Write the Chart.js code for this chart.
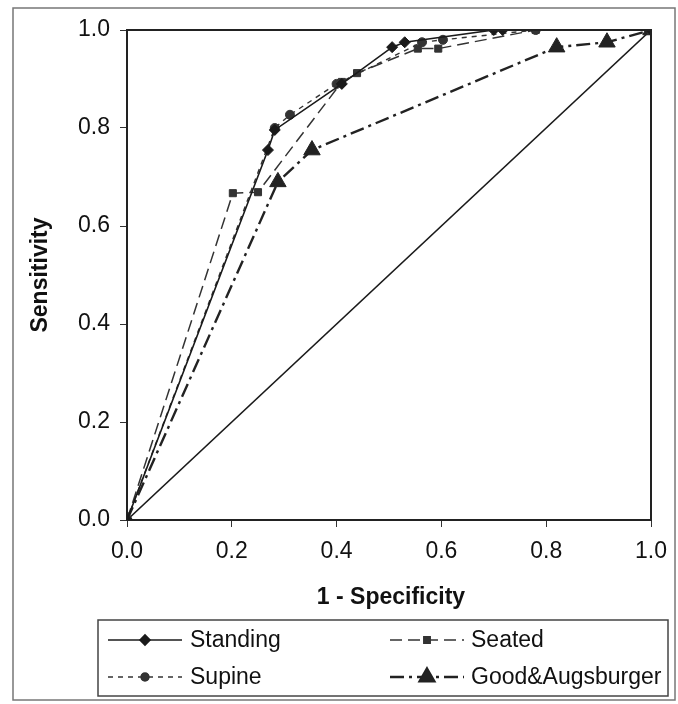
<!DOCTYPE html>
<html>
<head>
<meta charset="utf-8">
<script src="https://cdn.jsdelivr.net/npm/chart.js@4"></script>
<style>
  html, body { margin: 0; padding: 0; background: #fff; }
  #wrap { width: 678px; height: 704px; position: relative; }
</style>
</head>
<body>
<div id="wrap"><canvas id="roc" width="678" height="704"></canvas></div>
<script>
// values (1 - specificity, sensitivity)
const standingX = [0, 0.269, 0.282, 0.41, 0.506, 0.53, 0.70, 0.717, 1];
const standingY = [0, 0.755, 0.796, 0.89, 0.965, 0.975, 1.0, 1.0, 1];

const seatedX = [0, 0.202, 0.25, 0.41, 0.439, 0.555, 0.594, 0.78, 1];
const seatedY = [0, 0.667, 0.669, 0.894, 0.912, 0.962, 0.962, 1.0, 1];

const supineX = [0, 0.282, 0.311, 0.40, 0.563, 0.603, 0.78, 1];
const supineY = [0, 0.80, 0.827, 0.89, 0.975, 0.98, 1.0, 1];

const goodX = [0, 0.288, 0.353, 0.82, 0.916, 1];
const goodY = [0, 0.69, 0.755, 0.965, 0.975, 1];

const diagX = [0, 1];
const diagY = [0, 1];

const axisTicks = [0, 0.2, 0.4, 0.6, 0.8, 1.0];

const FONT = '"Liberation Sans", Arial, sans-serif';

function pts(xs, ys) {
    return xs.map((x, i) => ({ x: x, y: ys[i] }));
}

const series = [
    { label: 'Standing', xs: standingX, ys: standingY, style: 'rectRot', radius: 5.5, dash: [], width: 1.6, color: '#1a1a1a' },
    { label: 'Seated', xs: seatedX, ys: seatedY, style: 'rect', radius: 5, dash: [12, 6], width: 1.5, color: '#333' },
    { label: 'Supine', xs: supineX, ys: supineY, style: 'circle', radius: 4.5, dash: [5, 5], width: 1.4, color: '#333' },
    { label: 'Good&Augsburger', xs: goodX, ys: goodY, style: 'triangle', radius: 9.5, dash: [14, 5, 3, 5], width: 2.4, color: '#222' },
];

const datasets = series.map(s => ({
    label: s.label,
    data: pts(s.xs, s.ys),
    showLine: true,
    borderColor: s.color,
    backgroundColor: s.color,
    borderWidth: s.width,
    borderDash: s.dash,
    pointStyle: s.style,
    pointRadius: s.radius,
    pointBorderWidth: 1,
    pointBorderColor: s.color,
    pointBackgroundColor: s.color,
}));

datasets.push({
    label: 'diagonal',
    data: pts(diagX, diagY),
    showLine: true,
    borderColor: '#1a1a1a',
    borderWidth: 1.6,
    pointRadius: 0,
});

// frame, plot box, axis titles and the boxed legend
const decorations = {
    id: 'decorations',
    afterDraw(chart) {
        const ctx = chart.ctx;
        const a = chart.chartArea;
        ctx.save();

        ctx.strokeStyle = '#777';
        ctx.lineWidth = 1.5;
        ctx.strokeRect(13, 8, 662, 692);

        ctx.strokeStyle = '#222';
        ctx.lineWidth = 2;
        ctx.beginPath();
        ctx.moveTo(a.left, a.top);
        ctx.lineTo(a.right, a.top);
        ctx.lineTo(a.right, a.bottom);
        ctx.stroke();

        ctx.fillStyle = '#111';
        ctx.font = 'bold 23px ' + FONT;
        ctx.textAlign = 'center';
        ctx.textBaseline = 'middle';
        ctx.fillText('1 - Specificity', (a.left + a.right) / 2 + 2, 598);
        ctx.save();
        ctx.translate(41, (a.top + a.bottom) / 2);
        ctx.rotate(-Math.PI / 2);
        ctx.fillText('Sensitivity', 0, 0);
        ctx.restore();

        ctx.strokeStyle = '#444';
        ctx.lineWidth = 1.5;
        ctx.strokeRect(98, 620, 570, 76);

        const slots = [
            { x0: 108, x1: 182, tx: 190, y: 640 },
            { x0: 390, x1: 464, tx: 471, y: 640 },
            { x0: 108, x1: 182, tx: 190, y: 677 },
            { x0: 390, x1: 464, tx: 471, y: 677 },
        ];
        ctx.font = '23px ' + FONT;
        ctx.textAlign = 'left';
        series.forEach((s, i) => {
            const sl = slots[i];
            ctx.strokeStyle = s.color;
            ctx.lineWidth = s.width;
            ctx.setLineDash(s.dash);
            ctx.beginPath();
            ctx.moveTo(sl.x0, sl.y);
            ctx.lineTo(sl.x1, sl.y);
            ctx.stroke();
            ctx.setLineDash([]);
            Chart.helpers.drawPoint(ctx, {
                pointStyle: s.style,
                radius: s.style === 'triangle' ? 8.5 : s.radius - 0.5,
                borderWidth: 1,
                rotation: 0,
            }, (sl.x0 + sl.x1) / 2, sl.y);
            ctx.fillStyle = s.color;
            ctx.fill();
            ctx.fillStyle = '#111';
            ctx.fillText(s.label, sl.tx, sl.y + 1);
        });
        ctx.restore();
    }
};

new Chart(document.getElementById('roc'), {
    type: 'scatter',
    data: { datasets: datasets },
    options: {
        responsive: false,
        animation: false,
        layout: { padding: { left: 0, top: 30, right: 27, bottom: 0 } },
        plugins: {
            legend: { display: false },
            tooltip: { enabled: false },
        },
        scales: {
            x: {
                type: 'linear',
                min: 0,
                max: 1,
                afterFit: s => { s.height = 184; },
                afterBuildTicks: s => { s.ticks = axisTicks.map(v => ({ value: v })); },
                ticks: {
                    color: '#111',
                    padding: 11,
                    font: { family: FONT, size: 23 },
                    callback: v => v.toFixed(1),
                },
                grid: { drawOnChartArea: false, drawTicks: true, tickLength: 7, color: '#333' },
                border: { display: true, color: '#222', width: 2 },
            },
            y: {
                type: 'linear',
                min: 0,
                max: 1,
                afterFit: s => { s.width = 127; },
                afterBuildTicks: s => { s.ticks = axisTicks.map(v => ({ value: v })); },
                ticks: {
                    color: '#111',
                    padding: 10,
                    font: { family: FONT, size: 23 },
                    callback: v => v.toFixed(1),
                },
                grid: { drawOnChartArea: false, drawTicks: true, tickLength: 7, color: '#333' },
                border: { display: true, color: '#222', width: 2 },
            },
        },
    },
    plugins: [decorations],
});
</script>
</body>
</html>
